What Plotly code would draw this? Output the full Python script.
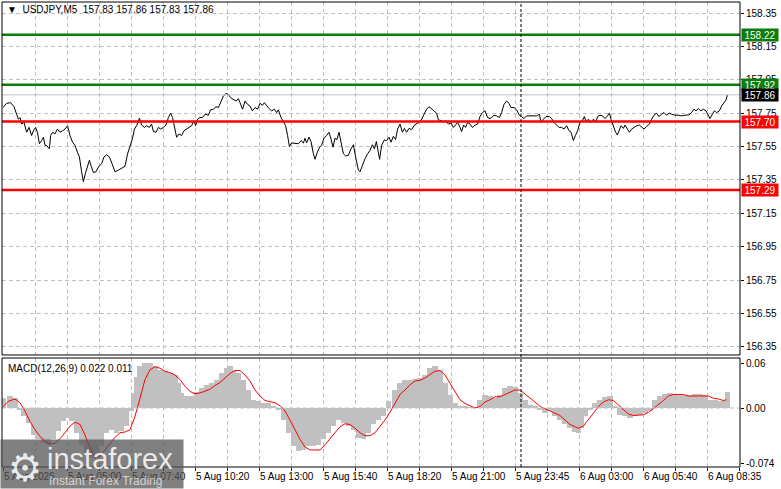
import plotly.graph_objects as go

# bar index on the M5 chart (0 = first bar, 2 px per bar in the picture)
price_bar = [0, 1.8, 3.8, 5.5, 6.8, 7.7, 8.5, 9.3, 10.5, 11.8, 13.0, 14.3, 15.2, 16.3, 17.2, 18.2, 19.3, 20.2,
             21.0, 21.8, 23.2, 23.8, 24.8, 26.0, 27.2, 28.5, 29.8, 31.0, 32.3, 33.5, 34.8, 36.0, 37.2, 38.2,
             39.3, 40.2, 41.2, 42.2, 43.2, 44.2, 45.2, 46.5, 47.8, 49.3, 50.5, 51.8, 53.2, 54.5, 56.0, 57.7,
             59.3, 61.0, 62.3, 63.5, 64.7, 65.7, 66.8, 68.2, 69.3, 70.7, 71.8, 73.2, 74.3, 75.2, 76.5, 77.7,
             78.8, 80.2, 81.5, 82.7, 83.8, 84.8, 86.0, 86.8, 88.0, 89.3, 90.5, 91.8, 93.0, 94.3, 95.5, 96.3,
             97.3, 98.5, 99.8, 101.0, 102.7, 103.8, 105.2, 106.5, 107.7, 109.0, 110.2, 111.5, 112.7, 113.8,
             115.2, 116.5, 117.7, 118.8, 119.8, 121.0, 122.3, 123.5, 124.7, 126.0, 127.3, 128.5, 129.7, 130.7,
             131.8, 133.0, 134.3, 135.7, 136.8, 137.7, 139.0, 140.2, 141.3, 142.3, 143.2, 144.3, 146.0, 147.7,
             149.0, 150.2, 151.0, 151.8, 153.0, 154.0, 155.2, 156.0, 157.2, 158.3, 159.3, 160.5, 161.8, 163.0,
             164.0, 165.0, 166.0, 167.0, 168.0, 169.0, 170.2, 171.3, 172.7, 174.0, 175.2, 176.3, 177.7, 178.5,
             179.7, 181.0, 182.3, 183.5, 184.7, 185.7, 186.7, 187.7, 188.3, 189.3, 190.7, 191.8, 193.0, 194.0,
             195.2, 196.3, 197.3, 198.5, 199.7, 200.7, 201.8, 203.0, 204.3, 205.7, 206.8, 208.0, 209.3, 210.7,
             211.8, 213.0, 214.3, 215.7, 216.8, 217.7, 219.0, 220.2, 221.3, 222.7, 224.0, 225.2, 226.3, 227.3,
             228.5, 229.3, 230.3, 231.3, 232.3, 233.5, 234.7, 236.0, 237.3, 238.5, 239.7, 241.0, 242.3, 243.5,
             244.3, 245.5, 246.8, 248.2, 249.3, 250.5, 251.8, 253.0, 254.0, 255.5, 256.8, 258.2, 259.3, 260.5,
             261.8, 263.5, 265.2, 266.8, 268.2, 269.0, 270.2, 271.5, 273.2, 274.3, 275.5, 276.8, 278.0, 279.3,
             280.5, 281.8, 283.0, 284.0, 285.2, 286.2, 287.3, 288.5, 289.7, 290.7, 291.5, 292.7, 293.8, 295.2,
             296.5, 297.3, 298.5, 299.8, 301.0, 302.2, 303.2, 304.0, 305.2, 306.3, 307.2, 308.2, 309.0, 310.2,
             311.0, 312.2, 313.2, 314.3, 315.5, 316.8, 318.2, 319.3, 320.5, 321.8, 323.2, 324.3, 325.5, 326.8,
             328.0, 329.3, 330.5, 331.8, 333.2, 334.3, 336.0, 337.7, 339.3, 341.0, 343.0, 344.3, 345.5, 346.5,
             347.7, 348.8, 350.2, 351.5, 352.7, 353.5, 354.7, 355.7, 356.8, 358.2, 359.3, 360.5, 361.5, 362.2]

price_close = [157.784, 157.809, 157.813, 157.789, 157.744, 157.714, 157.724, 157.685, 157.695, 157.636, 157.665,
               157.616, 157.645, 157.665, 157.636, 157.567, 157.586, 157.606, 157.557, 157.557, 157.537, 157.616,
               157.636, 157.626, 157.655, 157.636, 157.645, 157.655, 157.675, 157.616, 157.576, 157.557, 157.517,
               157.488, 157.399, 157.340, 157.389, 157.429, 157.468, 157.429, 157.395, 157.399, 157.429, 157.448,
               157.488, 157.501, 157.488, 157.448, 157.399, 157.409, 157.419, 157.432, 157.507, 157.557, 157.596,
               157.655, 157.675, 157.720, 157.679, 157.665, 157.675, 157.665, 157.685, 157.640, 157.636, 157.665,
               157.655, 157.665, 157.679, 157.724, 157.750, 157.724, 157.645, 157.606, 157.626, 157.616, 157.645,
               157.655, 157.665, 157.675, 157.705, 157.675, 157.714, 157.724, 157.724, 157.744, 157.738, 157.770,
               157.774, 157.789, 157.784, 157.823, 157.853, 157.868, 157.862, 157.843, 157.833, 157.823, 157.837,
               157.803, 157.774, 157.823, 157.803, 157.793, 157.764, 157.784, 157.774, 157.809, 157.797, 157.813,
               157.793, 157.778, 157.764, 157.774, 157.754, 157.770, 157.724, 157.695, 157.675, 157.616, 157.551,
               157.572, 157.570, 157.567, 157.586, 157.572, 157.600, 157.572, 157.606, 157.580, 157.507, 157.474,
               157.517, 157.547, 157.557, 157.600, 157.616, 157.636, 157.596, 157.547, 157.600, 157.592, 157.636,
               157.576, 157.507, 157.494, 157.498, 157.537, 157.561, 157.488, 157.409, 157.399, 157.442, 157.478,
               157.507, 157.527, 157.561, 157.537, 157.580, 157.517, 157.474, 157.557, 157.590, 157.586, 157.606,
               157.576, 157.612, 157.592, 157.655, 157.685, 157.636, 157.659, 157.636, 157.659, 157.651, 157.679,
               157.685, 157.695, 157.714, 157.754, 157.774, 157.789, 157.774, 157.764, 157.750, 157.711, 157.705,
               157.699, 157.705, 157.685, 157.691, 157.665, 157.679, 157.695, 157.665, 157.640, 157.679, 157.665,
               157.695, 157.685, 157.665, 157.679, 157.685, 157.730, 157.754, 157.764, 157.724, 157.718, 157.724,
               157.738, 157.734, 157.724, 157.754, 157.803, 157.823, 157.809, 157.784, 157.784, 157.770, 157.738,
               157.730, 157.718, 157.734, 157.734, 157.734, 157.734, 157.744, 157.695, 157.714, 157.730, 157.730,
               157.718, 157.695, 157.679, 157.665, 157.665, 157.655, 157.675, 157.645, 157.636, 157.586, 157.616,
               157.645, 157.695, 157.705, 157.730, 157.699, 157.714, 157.695, 157.714, 157.699, 157.730, 157.738,
               157.734, 157.718, 157.734, 157.750, 157.714, 157.675, 157.636, 157.620, 157.645, 157.675, 157.659,
               157.679, 157.655, 157.636, 157.655, 157.665, 157.675, 157.679, 157.665, 157.655, 157.671, 157.685,
               157.714, 157.738, 157.750, 157.730, 157.744, 157.754, 157.738, 157.750, 157.744, 157.738, 157.738,
               157.734, 157.738, 157.740, 157.754, 157.774, 157.764, 157.778, 157.764, 157.774, 157.764, 157.730,
               157.718, 157.744, 157.764, 157.754, 157.764, 157.793, 157.809, 157.829, 157.860]

hist_bar = [0.2, 3.5, 6.0, 8.5, 10.2, 12.7, 15.2, 17.7, 20.2, 22.7, 25.2, 27.7, 30.2, 32.7, 34.3, 36.8, 39.3,
            41.8, 44.3, 46.8, 49.3, 51.8, 54.3, 56.8, 59.3, 61.8, 64.0, 65.2, 66.8, 68.5, 71.0, 73.5, 76.0,
            78.5, 81.0, 83.5, 86.0, 87.7, 89.3, 91.8, 94.3, 96.8, 99.3, 101.8, 104.3, 106.8, 109.3, 111.8,
            113.5, 115.2, 117.7, 120.2, 122.7, 125.2, 127.7, 130.2, 132.7, 135.2, 137.7, 140.2, 142.7, 145.2,
            147.7, 150.2, 152.7, 155.2, 157.7, 160.2, 162.7, 165.2, 167.7, 170.2, 172.7, 175.2, 177.7, 180.2,
            182.7, 185.2, 187.7, 190.2, 192.7, 196.0, 198.5, 201.0, 203.5, 206.0, 208.5, 211.0, 213.5, 216.0,
            218.5, 221.0, 223.5, 226.0, 228.5, 231.0, 233.5, 236.0, 238.5, 241.0, 243.5, 246.0, 248.5, 251.0,
            253.5, 256.0, 258.5, 261.0, 263.5, 266.0, 268.5, 271.0, 273.5, 276.0, 278.5, 281.0, 283.5, 286.0,
            287.7, 289.3, 291.0, 293.5, 296.0, 298.5, 301.0, 303.5, 306.0, 308.5, 311.0, 313.5, 316.0, 318.5,
            321.0, 323.5, 326.0, 328.5, 331.0, 333.5, 336.0, 338.5, 341.0, 343.5, 346.0, 348.5, 351.0, 353.5,
            356.0, 358.5, 361.0, 362.4]

macd_main = [0.013, 0.016, 0.013, -0.002, -0.011, -0.020, -0.036, -0.042, -0.047, -0.049, -0.042, -0.031,
             -0.018, -0.013, -0.018, -0.033, -0.049, -0.062, -0.067, -0.064, -0.051, -0.033, -0.029, -0.033,
             -0.031, -0.024, -0.004, 0.020, 0.042, 0.056, 0.060, 0.060, 0.056, 0.051, 0.049, 0.047, 0.044,
             0.033, 0.020, 0.016, 0.016, 0.022, 0.027, 0.031, 0.033, 0.038, 0.047, 0.053, 0.056, 0.051, 0.047,
             0.038, 0.024, 0.011, 0.009, 0.007, 0.007, 0.003, -0.002, -0.016, -0.033, -0.051, -0.058, -0.056,
             -0.051, -0.051, -0.049, -0.042, -0.033, -0.024, -0.016, -0.020, -0.024, -0.029, -0.040, -0.042,
             -0.033, -0.022, -0.016, -0.011, 0.009, 0.024, 0.033, 0.037, 0.038, 0.039, 0.040, 0.044, 0.053,
             0.056, 0.051, 0.033, 0.018, 0.007, 0.003, 0.002, 0.001, 0.001, 0.011, 0.018, 0.016, 0.013, 0.018,
             0.027, 0.030, 0.028, 0.020, 0.011, 0.004, 0.002, -0.002, -0.006, -0.004, -0.011, -0.016, -0.021,
             -0.027, -0.032, -0.033, -0.027, -0.011, -0.002, 0.007, 0.011, 0.015, 0.016, 0.002, -0.009, -0.010,
             -0.013, -0.011, -0.009, -0.007, -0.004, 0.011, 0.016, 0.019, 0.020, 0.019, 0.018, 0.018, 0.018,
             0.019, 0.019, 0.018, 0.011, 0.011, 0.010, 0.011, 0.022]

signal_bar = [0.2, 2.7, 6.0, 8.5, 11.0, 13.5, 16.0, 18.5, 21.0, 23.5, 26.0, 28.5, 31.0, 33.5, 36.0, 38.5, 41.0,
              43.5, 46.0, 48.5, 51.0, 53.5, 56.0, 58.5, 61.0, 63.5, 66.0, 68.5, 71.0, 73.5, 76.0, 78.5, 81.0,
              83.5, 86.0, 88.5, 91.0, 93.5, 96.0, 98.5, 101.0, 103.5, 106.0, 108.5, 111.0, 113.5, 116.0, 118.5,
              121.0, 123.5, 126.0, 128.5, 131.0, 133.5, 136.0, 138.5, 141.0, 143.5, 146.0, 148.5, 151.0, 153.5,
              156.0, 158.5, 161.0, 163.5, 166.0, 168.5, 171.0, 173.5, 176.0, 178.5, 181.0, 183.5, 186.0, 188.5,
              191.0, 193.2, 196.0, 198.5, 201.0, 203.5, 206.0, 208.5, 211.0, 213.5, 216.0, 218.5, 221.0, 223.5,
              226.0, 228.5, 231.0, 233.5, 236.0, 238.5, 241.0, 243.5, 246.0, 248.5, 251.0, 253.5, 256.0, 258.5,
              261.0, 263.5, 266.0, 268.5, 271.0, 273.5, 276.0, 278.5, 281.0, 283.5, 286.0, 287.7, 290.2, 292.7,
              295.2, 297.7, 300.2, 302.7, 305.2, 307.7, 310.2, 312.7, 315.2, 317.7, 320.2, 322.7, 325.2, 327.7,
              330.2, 332.7, 335.2, 337.7, 340.2, 342.7, 345.2, 347.7, 350.2, 352.7, 355.2, 357.7, 360.2, 361.8]

macd_signal = [0.002, 0.009, 0.012, 0.007, -0.004, -0.018, -0.029, -0.038, -0.044, -0.048, -0.047, -0.041,
               -0.033, -0.024, -0.019, -0.022, -0.036, -0.053, -0.067, -0.064, -0.056, -0.047, -0.039, -0.033,
               -0.032, -0.029, -0.011, 0.013, 0.038, 0.051, 0.055, 0.053, 0.049, 0.047, 0.044, 0.038, 0.029,
               0.022, 0.019, 0.020, 0.022, 0.025, 0.030, 0.034, 0.040, 0.046, 0.050, 0.050, 0.044, 0.036, 0.024,
               0.016, 0.010, 0.008, 0.007, 0.003, -0.004, -0.016, -0.029, -0.042, -0.052, -0.056, -0.056, -0.056,
               -0.049, -0.041, -0.033, -0.025, -0.021, -0.022, -0.027, -0.033, -0.037, -0.037, -0.033, -0.025,
               -0.016, -0.007, 0.007, 0.018, 0.024, 0.031, 0.036, 0.037, 0.040, 0.044, 0.049, 0.050, 0.044, 0.033,
               0.022, 0.011, 0.006, 0.003, 0.000, 0.002, 0.008, 0.011, 0.015, 0.015, 0.018, 0.021, 0.024, 0.024,
               0.019, 0.013, 0.008, 0.002, -0.001, -0.003, -0.007, -0.010, -0.016, -0.022, -0.025, -0.027, -0.024,
               -0.016, -0.007, 0.002, 0.008, 0.011, 0.010, 0.004, -0.002, -0.008, -0.010, -0.010, -0.009, -0.006,
               -0.001, 0.004, 0.010, 0.016, 0.018, 0.018, 0.018, 0.016, 0.016, 0.016, 0.016, 0.016, 0.013, 0.012,
               0.010, 0.011]

time_tick_bar = [0, 32, 64, 96, 128, 160, 192, 224, 256, 288, 320, 352]
time_tick_text = ["5 Aug 2026", "5 Aug 05:00", "5 Aug 07:40", "5 Aug 10:20", "5 Aug 13:00", "5 Aug 15:40",
                  "5 Aug 18:20", "5 Aug 21:00", "5 Aug 23:45", "6 Aug 03:00", "6 Aug 05:40", "6 Aug 08:35"]
day_separator_bar = 259

price_ticks = [156.35, 156.55, 156.75, 156.95, 157.15, 157.35, 157.55, 157.75, 157.95, 158.15, 158.35]
macd_ticks = [0.06, 0.0, -0.074]
macd_tick_text = ["0.06", "0.00", "-0.074"]

levels = [158.22, 157.92, 157.70, 157.29]
level_colors = ["#0a7d0a", "#0a7d0a", "#ff0000", "#ff0000"]
bid = 157.86

FONT = "Liberation Sans"
GRID = "#c0c0c0"
GRID_DASH = "4px,3px"

fig = go.Figure()
fig.add_trace(go.Scatter(x=price_bar, y=price_close, mode="lines",
                         line=dict(color="black", width=1), xaxis="x", yaxis="y", hoverinfo="skip"))
fig.add_trace(go.Bar(x=hist_bar, y=macd_main, width=2.6, marker=dict(color="#c0c0c0", line=dict(width=0)),
                     xaxis="x2", yaxis="y2", hoverinfo="skip"))
fig.add_trace(go.Scatter(x=signal_bar, y=macd_signal, mode="lines", line=dict(color="#ff0000", width=1),
                         xaxis="x2", yaxis="y2", hoverinfo="skip"))

main_dom = [0.2409, 1.0]
macd_dom = [0.0, 0.2344]

xcommon = dict(range=[-0.5, 368.5], tickmode="linear", tick0=0, dtick=16, showgrid=True,
               gridcolor=GRID, griddash=GRID_DASH, gridwidth=1, zeroline=False, showticklabels=False,
               showline=False, fixedrange=True)

fig.update_layout(
    width=781, height=489,
    margin=dict(l=2, r=41, t=2, b=22),
    paper_bgcolor="white", plot_bgcolor="white",
    showlegend=False, bargap=0,
    font=dict(family=FONT, size=10, color="black"),
    xaxis=dict(domain=[0, 1], anchor="y", **xcommon),
    xaxis2=dict(domain=[0, 1], anchor="y2", matches="x", ticks="outside", ticklen=3, tickcolor="black",
                **{k: v for k, v in xcommon.items() if k != "range"}),
    yaxis=dict(domain=main_dom, anchor="x", side="right", range=[156.302, 158.416],
               tickvals=price_ticks, ticktext=[f"{v:.2f}" for v in price_ticks],
               ticks="outside", ticklen=3, tickcolor="black", showgrid=True, gridcolor=GRID,
               griddash=GRID_DASH, zeroline=False, fixedrange=True),
    yaxis2=dict(domain=macd_dom, anchor="x2", side="right", range=[-0.0787, 0.0667],
                tickvals=macd_ticks, ticktext=macd_tick_text, ticks="outside", ticklen=3,
                tickcolor="black", showgrid=False, zeroline=False, fixedrange=True),
)

shapes = []
# grey bid line and the support / resistance levels
shapes.append(dict(type="line", xref="x domain", yref="y", x0=0, x1=1, y0=bid, y1=bid,
                   line=dict(color="#c0c0c0", width=1)))
for lv, col in zip(levels, level_colors):
    shapes.append(dict(type="line", xref="x domain", yref="y", x0=0, x1=1, y0=lv, y1=lv,
                       line=dict(color=col, width=2.5)))
# dashed zero level of the MACD window (over the histogram, as in the terminal)
shapes.append(dict(type="line", xref="x2 domain", yref="y2", x0=0, x1=1, y0=0, y1=0,
                   line=dict(color=GRID, width=1, dash=GRID_DASH)))
# day separator
shapes.append(dict(type="line", xref="x", yref="paper", x0=day_separator_bar, x1=day_separator_bar,
                   y0=0, y1=1, line=dict(color="black", width=1, dash="3px,2px")))
# panel frames
for dom in (main_dom, macd_dom):
    shapes.append(dict(type="rect", xref="paper", yref="paper", x0=0, x1=1, y0=dom[0], y1=dom[1],
                       line=dict(color="black", width=1), fillcolor="rgba(0,0,0,0)"))
fig.update_layout(shapes=shapes)

ann = []
ann.append(dict(xref="paper", yref="paper", x=0.004, y=0.9995, xanchor="left", yanchor="top",
                text="▼  USDJPY,M5  157.83 157.86 157.83 157.86", showarrow=False,
                font=dict(family=FONT, size=10, color="black")))
ann.append(dict(xref="paper", yref="paper", x=0.006, y=0.228, xanchor="left", yanchor="top",
                text="MACD(12,26,9) 0.022 0.011", showarrow=False,
                font=dict(family=FONT, size=10, color="black")))
for lv, col in zip(levels, level_colors):
    ann.append(dict(xref="paper", yref="y", x=1, y=lv, xanchor="left", yanchor="middle", xshift=1,
                    text=f"{lv:.2f}", showarrow=False, bgcolor=col, width=34, height=10, borderpad=1,
                    font=dict(family=FONT, size=10, color="white")))
ann.append(dict(xref="paper", yref="y", x=1, y=bid, xanchor="left", yanchor="middle", xshift=1,
                text=f"{bid:.2f}", showarrow=False, bgcolor="black", width=34, height=10, borderpad=1,
                font=dict(family=FONT, size=10, color="white")))
for b, t in zip(time_tick_bar, time_tick_text):
    ann.append(dict(xref="x2", yref="paper", x=b, y=-0.0215, xanchor="left", yanchor="middle", xshift=-1,
                    text=t, showarrow=False, font=dict(family=FONT, size=10, color="black")))

# instaforex watermark
ann.append(dict(xref="paper", yref="paper", x=-0.003, y=-0.048, xanchor="left", yanchor="bottom",
                text="", showarrow=False, width=180, height=46, bgcolor="rgba(85,85,85,0.75)"))
ann.append(dict(xref="paper", yref="paper", x=0.006, y=-0.002, xanchor="left", yanchor="middle",
                text="⚙", showarrow=False, font=dict(family="DejaVu Sans", size=38,
                                                    color="rgba(255,255,255,0.85)")))
ann.append(dict(xref="paper", yref="paper", x=0.058, y=0.018, xanchor="left", yanchor="middle",
                text="instaforex", showarrow=False,
                font=dict(family=FONT, size=29, color="rgba(255,255,255,0.85)")))
ann.append(dict(xref="paper", yref="paper", x=0.061, y=-0.030, xanchor="left", yanchor="middle",
                text="Instant Forex Trading", showarrow=False,
                font=dict(family=FONT, size=12, color="rgba(235,235,235,0.8)")))
fig.update_layout(annotations=ann)

# the page body has a default 8px margin; drop it so the chart sits at the window corner
fig.write_html("out.html", config={"displayModeBar": False},
               post_script="document.body.style.margin='0';")
